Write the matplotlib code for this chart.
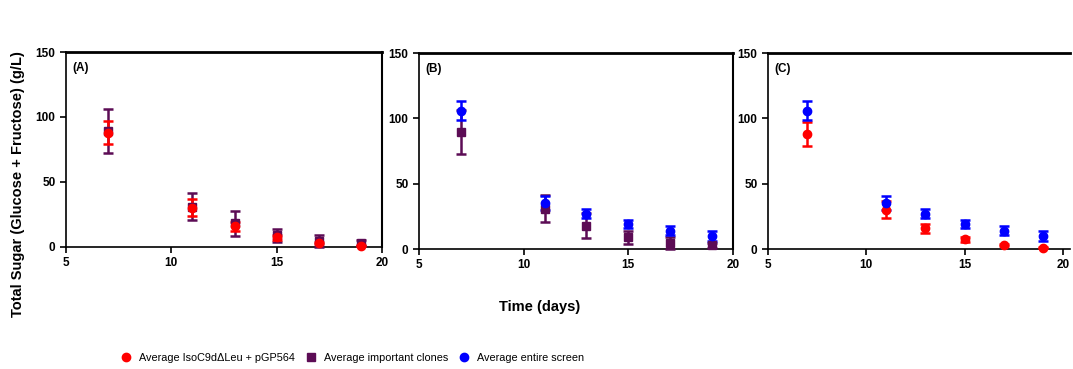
import numpy as np
import matplotlib
matplotlib.use("Agg")
import matplotlib.pyplot as plt

plt.rcParams['font.family'] = ['Liberation Sans', 'DejaVu Sans']

days = [7, 11, 13, 15, 17, 19]

# Average IsoC9d(delta)Leu + pGP564
ref_mean = [88, 30, 16, 7.5, 3, 1]
ref_err = [9, 6.5, 3.5, 2, 0.8, 0.5]

# Average important clones
imp_mean = [89.5, 31, 18, 9, 4.5, 3]
imp_err = [17, 10.5, 9.5, 5, 4.5, 2]

# Average entire screen
scr_mean = [106, 35.5, 27, 19.5, 14, 10]
scr_err = [7.5, 5.5, 3.5, 3, 3.5, 3.5]

panel_labels = ['(A)', '(B)', '(C)']
legend_labels = ['Average IsoC9d\u0394Leu + pGP564', 'Average important clones',
                 'Average entire screen']

red = '#ff0000'
purple = '#5c0c55'
blue = '#0000ff'

fig = plt.figure(figsize=(10.73, 3.69), dpi=100)
axA = fig.add_axes([0.0615, 0.331, 0.2945, 0.528])
axB = fig.add_axes([0.3905, 0.325, 0.2926, 0.531])
axC = fig.add_axes([0.7157, 0.325, 0.2814, 0.531])


def draw(ax, y, e, color, marker):
    ax.errorbar(days, y, yerr=e, fmt=marker, color=color, ecolor=color,
                markersize=6, elinewidth=1.8, capsize=3.5, capthick=1.8,
                zorder=3, clip_on=False)


draw(axA, imp_mean, imp_err, purple, 's')
draw(axA, ref_mean, ref_err, red, 'o')
draw(axB, imp_mean, imp_err, purple, 's')
draw(axB, scr_mean, scr_err, blue, 'o')
draw(axC, ref_mean, ref_err, red, 'o')
draw(axC, scr_mean, scr_err, blue, 'o')

for ax, lab in zip([axA, axB, axC], panel_labels):
    ax.set_xlim(5, 20)
    ax.set_ylim(0, 150)
    ax.set_xticks([5, 10, 15, 20])
    ax.set_yticks([0, 50, 100, 150])
    ax.tick_params(direction='out', length=4, width=1.2, labelsize=8.5)
    for t in ax.get_xticklabels() + ax.get_yticklabels():
        t.set_fontweight('bold')
    for s in ax.spines.values():
        s.set_linewidth(1.2)
    ax.spines['top'].set_linewidth(2)
    ax.spines['right'].set_linewidth(1.5)
    ax.text(0.02, 0.92, lab, transform=ax.transAxes, fontsize=8.5,
            fontweight='bold', va='center')
axC.set_xlim(5, 20.35)
axC.spines['right'].set_visible(False)

fig.text(0.017, 0.5, 'Total Sugar (Glucose + Fructose) (g/L)', rotation=90,
         fontsize=10.5, fontweight='bold', ha='center', va='center')
fig.text(0.503, 0.168, 'Time (days)', fontsize=10.5, fontweight='bold',
         ha='center', va='center')

h1 = plt.Line2D([], [], color=red, marker='o', linestyle='none', markersize=6)
h2 = plt.Line2D([], [], color=purple, marker='s', linestyle='none', markersize=6)
h3 = plt.Line2D([], [], color=blue, marker='o', linestyle='none', markersize=6)
fig.legend([h1, h2, h3], legend_labels, loc='center', ncol=3,
           bbox_to_anchor=(0.329, 0.03), frameon=False, fontsize=7.8,
           columnspacing=1.1, handletextpad=0.8, handlelength=0.8)

fig.savefig('out.png', dpi=100)
